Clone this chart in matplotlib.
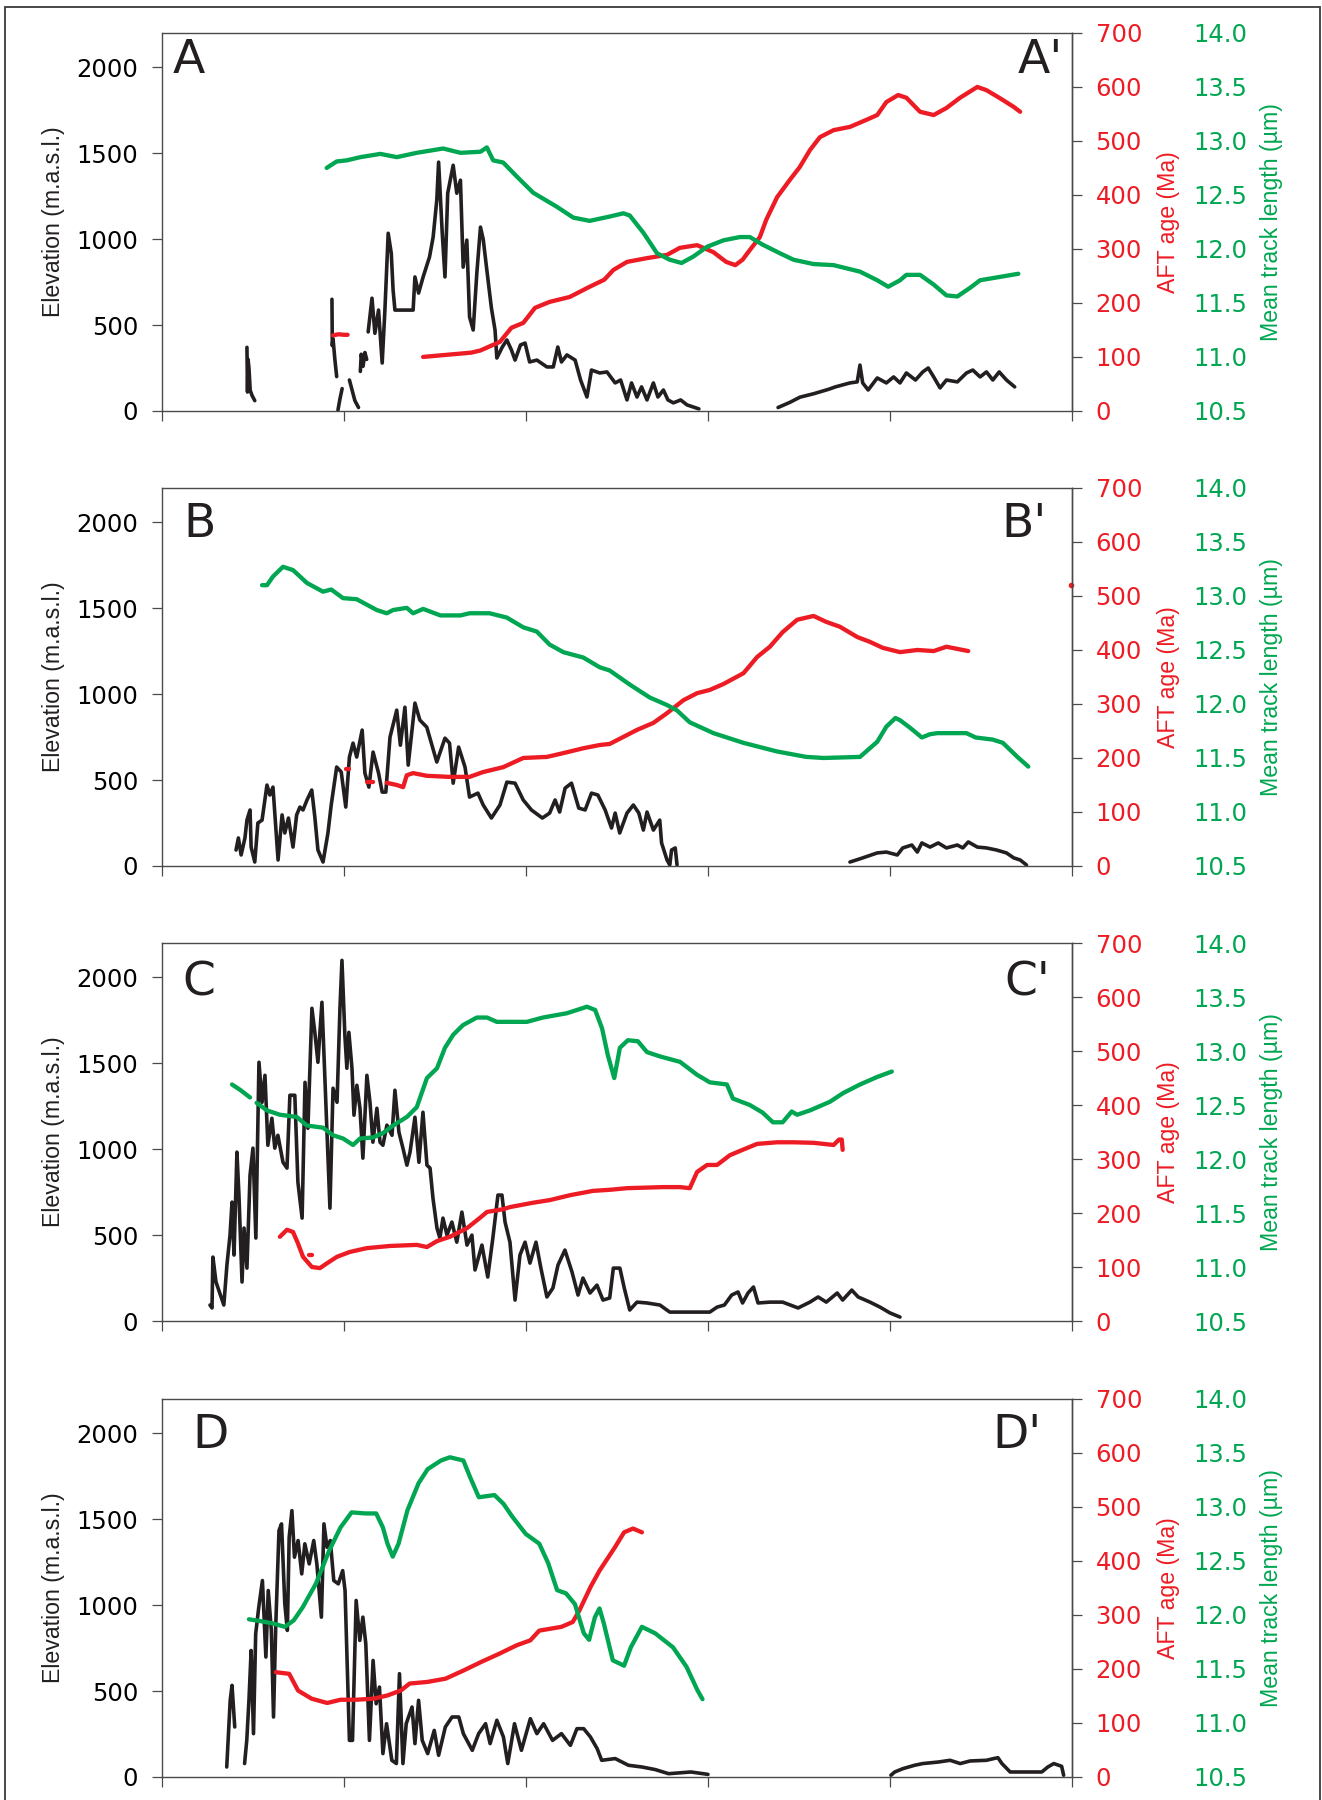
import numpy as np
import matplotlib
matplotlib.use("Agg")
import matplotlib.pyplot as plt
from matplotlib.patches import Rectangle
from matplotlib.ticker import FormatStrFormatter

RED = "#ED1C24"
GREEN = "#00A651"
BLACK = "#231F20"
EDGE = "#4a4a4a"

# distance along profile (tick units 0..5)
# ---- panel A ----
elev_a = [
    [(0.467, 370), (0.47, 110), (0.473, 300), (0.478, 250), (0.485, 120), (0.495, 90), (0.51, 60)],
    [(0.934, 650), (0.936, 380), (0.94, 420), (0.95, 300), (0.96, 200)],
    [(0.967, 5), (0.978, 70), (0.99, 130)],
    [(1.03, 180), (1.045, 120), (1.06, 60), (1.08, 20)],
    [(1.09, 230), (1.095, 330), (1.105, 260), (1.115, 340), (1.125, 300)],
    [(1.133, 460), (1.154, 656), (1.17, 452), (1.19, 587), (1.21, 279), (1.225, 587), (1.243, 1034),
     (1.26, 917), (1.27, 703), (1.28, 587), (1.38, 587), (1.39, 780), (1.41, 686), (1.435, 780),
     (1.47, 896), (1.49, 1012), (1.51, 1227), (1.52, 1448), (1.54, 1034), (1.555, 780), (1.57, 1267),
     (1.6, 1430), (1.62, 1267), (1.64, 1343), (1.655, 837), (1.675, 994), (1.69, 547), (1.71, 471),
     (1.73, 802), (1.75, 1070), (1.765, 1000), (1.785, 820), (1.81, 600), (1.83, 471), (1.84, 308),
     (1.87, 372), (1.895, 413), (1.92, 355), (1.94, 296), (1.97, 384), (1.995, 395), (2.02, 285),
     (2.06, 296), (2.115, 256), (2.15, 256), (2.175, 372), (2.195, 285), (2.225, 326), (2.27, 296),
     (2.3, 180), (2.335, 81), (2.36, 238), (2.405, 221), (2.445, 227), (2.49, 163), (2.52, 180),
     (2.555, 64), (2.58, 163), (2.61, 81), (2.635, 140), (2.665, 64), (2.7, 163), (2.725, 81),
     (2.755, 122), (2.78, 64), (2.81, 47), (2.85, 64), (2.885, 35), (2.95, 12)],
    [(3.385, 20), (3.45, 50), (3.505, 80), (3.58, 100), (3.66, 125), (3.7, 140), (3.78, 163),
     (3.82, 169), (3.835, 267), (3.85, 163), (3.88, 122), (3.93, 192), (3.98, 163), (4.02, 198),
     (4.055, 163), (4.09, 221), (4.14, 180), (4.18, 227), (4.21, 250), (4.24, 198), (4.275, 134),
     (4.31, 180), (4.37, 169), (4.42, 221), (4.455, 238), (4.495, 198), (4.53, 227), (4.565, 180),
     (4.6, 227), (4.64, 180), (4.685, 140)],
]
aft_a = [
    [(0.94, 140), (0.97, 142), (1.0, 141), (1.02, 141)],
    [(1.435, 100), (1.5, 102), (1.6, 105), (1.7, 108), (1.75, 112), (1.857, 128), (1.92, 154),
     (1.985, 163), (2.05, 191), (2.13, 202), (2.24, 211), (2.35, 230), (2.43, 243), (2.48, 261),
     (2.555, 276), (2.665, 283), (2.775, 289), (2.845, 302), (2.94, 307), (3.03, 294), (3.1, 276),
     (3.15, 270), (3.19, 280), (3.23, 298), (3.285, 322), (3.32, 354), (3.38, 396), (3.45, 428),
     (3.505, 452), (3.56, 483), (3.615, 507), (3.69, 520), (3.78, 526), (3.87, 539), (3.93, 548),
     (3.98, 572), (4.045, 585), (4.09, 580), (4.165, 554), (4.24, 548), (4.31, 561), (4.385, 580),
     (4.48, 600), (4.53, 594), (4.6, 580), (4.68, 563), (4.715, 554)],
]
mtl_a = [
    [(0.905, 12.75), (0.96, 12.81), (1.015, 12.82), (1.09, 12.85), (1.2, 12.88), (1.29, 12.85),
     (1.4, 12.89), (1.545, 12.93), (1.64, 12.89), (1.75, 12.9), (1.785, 12.94), (1.82, 12.82),
     (1.875, 12.8), (1.95, 12.67), (2.04, 12.52), (2.17, 12.39), (2.26, 12.29), (2.35, 12.26),
     (2.46, 12.3), (2.535, 12.33), (2.57, 12.31), (2.645, 12.15), (2.72, 11.96), (2.79, 11.9),
     (2.855, 11.87), (2.92, 11.93), (2.995, 12.02), (3.085, 12.08), (3.175, 12.11), (3.23, 12.11),
     (3.3, 12.04), (3.395, 11.96), (3.47, 11.9), (3.58, 11.86), (3.69, 11.85), (3.835, 11.79),
     (3.93, 11.71), (3.99, 11.65), (4.055, 11.71), (4.09, 11.76), (4.165, 11.76), (4.24, 11.67),
     (4.31, 11.57), (4.37, 11.56), (4.44, 11.64), (4.495, 11.71), (4.6, 11.74), (4.705, 11.77)],
]

# ---- panel B ----
elev_b = [
    [(0.407, 93), (0.42, 163), (0.435, 64), (0.456, 163), (0.467, 267), (0.484, 326), (0.49, 110),
     (0.51, 23), (0.527, 250), (0.55, 267), (0.577, 471), (0.593, 413), (0.61, 459), (0.638, 35),
     (0.66, 297), (0.675, 192), (0.695, 279), (0.72, 110), (0.74, 297), (0.758, 343), (0.775, 326),
     (0.797, 384), (0.823, 442), (0.84, 285), (0.857, 93), (0.885, 23), (0.912, 192), (0.93, 355),
     (0.96, 576), (0.985, 547), (1.01, 343), (1.03, 634), (1.05, 715), (1.07, 634), (1.1, 791),
     (1.115, 541), (1.137, 459), (1.16, 663), (1.19, 541), (1.21, 430), (1.23, 430), (1.253, 750),
     (1.29, 907), (1.31, 703), (1.335, 924), (1.353, 587), (1.39, 948), (1.417, 849), (1.455, 808),
     (1.51, 605), (1.555, 744), (1.58, 715), (1.6, 482), (1.63, 692), (1.665, 576), (1.69, 401),
     (1.736, 424), (1.765, 355), (1.81, 279), (1.857, 355), (1.895, 488), (1.94, 482), (1.985, 384),
     (2.03, 326), (2.09, 279), (2.13, 308), (2.16, 384), (2.185, 314), (2.215, 453), (2.25, 482),
     (2.29, 337), (2.325, 326), (2.36, 424), (2.395, 413), (2.435, 326), (2.47, 221), (2.49, 308),
     (2.515, 192), (2.555, 308), (2.59, 355), (2.62, 308), (2.645, 209), (2.665, 314), (2.7, 209),
     (2.735, 267), (2.745, 134), (2.775, 35), (2.79, 6), (2.8, 93), (2.82, 105), (2.83, 6)],
    [(3.78, 23), (3.85, 47), (3.93, 76), (3.98, 81), (4.04, 64), (4.07, 105), (4.12, 122),
     (4.15, 81), (4.175, 134), (4.22, 110), (4.265, 134), (4.31, 105), (4.37, 122), (4.4, 105),
     (4.43, 140), (4.48, 110), (4.53, 105), (4.585, 93), (4.64, 76), (4.68, 47), (4.715, 35),
     (4.75, 6)],
]
aft_b = [
    [(1.01, 180), (1.03, 180)],
    [(1.127, 156), (1.16, 156)],
    [(1.235, 154), (1.29, 150), (1.325, 146), (1.345, 168), (1.38, 172), (1.455, 167), (1.58, 165),
     (1.69, 165), (1.765, 174), (1.875, 183), (1.985, 200), (2.115, 202), (2.205, 209), (2.315, 218),
     (2.405, 224), (2.46, 226), (2.535, 239), (2.61, 252), (2.7, 265), (2.775, 283), (2.865, 307),
     (2.94, 320), (3.01, 326), (3.085, 337), (3.195, 357), (3.27, 387), (3.34, 406), (3.41, 433),
     (3.49, 456), (3.58, 463), (3.65, 452), (3.725, 443), (3.82, 424), (3.89, 415), (3.96, 404),
     (4.055, 396), (4.15, 400), (4.24, 398), (4.31, 406), (4.43, 398)],
]
aft_b_dot = (4.995, 520)
mtl_b = [
    [(0.55, 13.1), (0.577, 13.1), (0.61, 13.18), (0.665, 13.27), (0.72, 13.24), (0.797, 13.12),
     (0.885, 13.04), (0.93, 13.06), (0.995, 12.98), (1.07, 12.97), (1.18, 12.87), (1.235, 12.84),
     (1.27, 12.87), (1.345, 12.89), (1.38, 12.84), (1.435, 12.88), (1.53, 12.82), (1.64, 12.82),
     (1.69, 12.84), (1.8, 12.84), (1.895, 12.8), (1.985, 12.71), (2.06, 12.67), (2.13, 12.55),
     (2.205, 12.48), (2.315, 12.43), (2.405, 12.34), (2.46, 12.31), (2.57, 12.18), (2.68, 12.06),
     (2.775, 11.99), (2.83, 11.94), (2.9, 11.83), (3.03, 11.73), (3.195, 11.64), (3.38, 11.56),
     (3.54, 11.51), (3.635, 11.5), (3.835, 11.51), (3.93, 11.65), (3.98, 11.79), (4.03, 11.87),
     (4.055, 11.85), (4.11, 11.78), (4.175, 11.69), (4.22, 11.72), (4.26, 11.73), (4.42, 11.73),
     (4.47, 11.69), (4.565, 11.67), (4.62, 11.64), (4.7, 11.51), (4.76, 11.42)],
]

# ---- panel C ----
elev_c = [
    [(0.264, 93), (0.275, 76), (0.28, 372), (0.297, 227), (0.34, 93), (0.357, 326), (0.374, 500),
     (0.385, 692), (0.396, 384), (0.412, 983), (0.423, 733), (0.44, 227), (0.451, 541), (0.467, 308),
     (0.484, 849), (0.5, 1006), (0.516, 483), (0.533, 1506), (0.55, 1273), (0.566, 1430),
     (0.582, 1023), (0.604, 1180), (0.62, 1006), (0.637, 1081), (0.665, 924), (0.687, 890),
     (0.703, 1314), (0.73, 1314), (0.747, 808), (0.77, 599), (0.786, 1389), (0.802, 1122),
     (0.824, 1820), (0.84, 1680), (0.857, 1506), (0.879, 1855), (0.896, 1389), (0.923, 657),
     (0.94, 1355), (0.962, 1273), (0.978, 1820), (0.989, 2099), (1.005, 1663), (1.016, 1471),
     (1.027, 1680), (1.044, 1471), (1.055, 1198), (1.071, 1372), (1.088, 1238), (1.104, 948),
     (1.126, 1430), (1.143, 1273), (1.159, 1041), (1.181, 1238), (1.198, 1041), (1.214, 1023),
     (1.236, 1140), (1.264, 1081), (1.28, 1343), (1.302, 1099), (1.324, 1006), (1.346, 907),
     (1.363, 983), (1.39, 1186), (1.412, 924), (1.434, 1215), (1.456, 907), (1.473, 890),
     (1.489, 715), (1.511, 541), (1.527, 483), (1.544, 599), (1.566, 500), (1.593, 576), (1.62, 459),
     (1.648, 634), (1.676, 442), (1.703, 500), (1.72, 297), (1.758, 442), (1.79, 256), (1.818, 483),
     (1.846, 733), (1.868, 733), (1.885, 576), (1.912, 459), (1.94, 122), (1.967, 384), (1.995, 459),
     (2.022, 337), (2.055, 459), (2.082, 308), (2.115, 140), (2.148, 192), (2.176, 326),
     (2.214, 413), (2.253, 285), (2.286, 151), (2.313, 250), (2.352, 163), (2.39, 209), (2.423, 122),
     (2.46, 134), (2.48, 308), (2.516, 308), (2.54, 192), (2.57, 64), (2.61, 110), (2.665, 105),
     (2.736, 93), (2.79, 52), (3.01, 52), (3.05, 81), (3.09, 93), (3.13, 151), (3.165, 169),
     (3.19, 105), (3.22, 163), (3.25, 198), (3.275, 105), (3.34, 110), (3.41, 110), (3.495, 76),
     (3.56, 110), (3.605, 140), (3.65, 110), (3.71, 163), (3.74, 122), (3.79, 180), (3.825, 140),
     (3.89, 110), (3.945, 81), (4.0, 47), (4.055, 23)],
]
aft_c = [
    [(0.648, 156), (0.687, 169), (0.72, 165), (0.747, 144), (0.775, 119), (0.824, 100), (0.868, 98),
     (0.907, 107), (0.962, 119), (1.033, 128), (1.126, 135), (1.253, 139), (1.4, 141), (1.456, 137),
     (1.511, 148), (1.582, 156), (1.676, 172), (1.747, 191), (1.786, 202), (1.874, 207),
     (1.912, 211), (2.038, 219), (2.132, 224), (2.242, 233), (2.368, 241), (2.46, 243),
     (2.555, 246), (2.753, 248), (2.846, 248), (2.9, 246), (2.94, 276), (2.995, 289), (3.05, 289),
     (3.12, 307), (3.19, 317), (3.27, 328), (3.38, 331), (3.47, 331), (3.58, 330), (3.69, 326),
     (3.72, 336), (3.735, 336), (3.74, 317)],
    [(0.81, 122), (0.825, 122)],
]
mtl_c = [
    [(0.385, 12.69), (0.43, 12.64), (0.484, 12.57)],
    [(0.52, 12.52), (0.577, 12.45), (0.648, 12.41), (0.74, 12.39), (0.797, 12.31), (0.885, 12.29),
     (0.94, 12.22), (0.995, 12.19), (1.05, 12.13), (1.088, 12.19), (1.16, 12.2), (1.214, 12.24),
     (1.27, 12.31), (1.346, 12.39), (1.4, 12.48), (1.456, 12.75), (1.511, 12.84), (1.555, 13.03),
     (1.6, 13.15), (1.654, 13.24), (1.73, 13.31), (1.786, 13.31), (1.84, 13.27), (2.005, 13.27),
     (2.093, 13.31), (2.225, 13.35), (2.335, 13.41), (2.38, 13.38), (2.418, 13.21), (2.45, 12.96),
     (2.485, 12.75), (2.516, 13.03), (2.56, 13.1), (2.615, 13.09), (2.665, 12.99), (2.736, 12.95),
     (2.846, 12.9), (2.94, 12.78), (3.01, 12.71), (3.104, 12.69), (3.137, 12.56), (3.23, 12.5),
     (3.3, 12.43), (3.357, 12.34), (3.41, 12.34), (3.46, 12.44), (3.49, 12.41), (3.56, 12.45),
     (3.67, 12.53), (3.742, 12.61), (3.835, 12.69), (3.93, 12.76), (4.01, 12.81)],
]

# ---- panel D ----
elev_d = [
    [(0.356, 58), (0.375, 446), (0.385, 533), (0.4, 291)],
    [(0.454, 78), (0.466, 213), (0.478, 446),
     (0.49, 736), (0.503, 252), (0.515, 833), (0.532, 988), (0.552, 1143), (0.571, 698),
     (0.584, 1085), (0.601, 853), (0.613, 349), (0.625, 872), (0.643, 1434), (0.657, 1473),
     (0.675, 1008), (0.689, 853), (0.699, 1395), (0.714, 1550), (0.728, 1279), (0.748, 1376),
     (0.768, 1182), (0.785, 1357), (0.809, 1240), (0.834, 1376), (0.851, 1240), (0.876, 930),
     (0.89, 1473), (0.907, 1337), (0.925, 1376), (0.944, 1143), (0.969, 1124), (0.993, 1201),
     (1.006, 1085), (1.03, 213), (1.047, 213), (1.067, 1027), (1.087, 795), (1.104, 930),
     (1.12, 775), (1.14, 213), (1.16, 678), (1.177, 426), (1.195, 523), (1.214, 136), (1.234, 310),
     (1.263, 97), (1.288, 78), (1.305, 601), (1.324, 78), (1.342, 310), (1.374, 407), (1.39, 194),
     (1.41, 446), (1.43, 213), (1.46, 136), (1.496, 271), (1.52, 126), (1.557, 291), (1.594, 349),
     (1.631, 349), (1.656, 252), (1.705, 155), (1.74, 252), (1.778, 310), (1.803, 194), (1.84, 330),
     (1.876, 233), (1.9, 78), (1.937, 310), (1.975, 155), (2.024, 339), (2.06, 252), (2.097, 310),
     (2.146, 213), (2.195, 252), (2.244, 184), (2.28, 281), (2.317, 281), (2.354, 233),
     (2.391, 165), (2.416, 97), (2.49, 107), (2.563, 68), (2.637, 58), (2.71, 43), (2.784, 19),
     (2.906, 29), (3.0, 15)],
    [(4.005, 10), (4.026, 29), (4.07, 48), (4.135, 68), (4.18, 78), (4.266, 87), (4.33, 97),
     (4.386, 78), (4.44, 93), (4.53, 97), (4.57, 107), (4.593, 112), (4.615, 78), (4.66, 29),
     (4.834, 29), (4.867, 58), (4.9, 78), (4.943, 62), (4.954, 10)],
]
aft_d = [
    [(0.625, 194), (0.699, 191), (0.748, 160), (0.822, 145), (0.908, 137), (0.981, 143),
     (1.067, 143), (1.165, 145), (1.239, 151), (1.312, 160), (1.361, 173), (1.459, 176),
     (1.558, 182), (1.656, 197), (1.754, 213), (1.852, 228), (1.95, 244), (2.024, 253),
     (2.073, 271), (2.195, 278), (2.257, 287), (2.293, 308), (2.355, 352), (2.404, 382),
     (2.453, 407), (2.49, 426), (2.539, 453), (2.588, 460), (2.637, 453)],
]
mtl_d = [
    [(0.478, 11.96), (0.552, 11.94), (0.613, 11.92), (0.675, 11.89), (0.724, 11.95), (0.773, 12.07),
     (0.846, 12.29), (0.92, 12.6), (0.981, 12.81), (1.042, 12.95), (1.116, 12.94), (1.177, 12.94),
     (1.214, 12.81), (1.239, 12.66), (1.268, 12.54), (1.3, 12.66), (1.349, 12.97), (1.41, 13.22),
     (1.46, 13.35), (1.533, 13.43), (1.582, 13.46), (1.656, 13.43), (1.692, 13.28), (1.741, 13.09),
     (1.827, 13.11), (1.876, 13.03), (1.925, 12.91), (1.999, 12.75), (2.073, 12.66), (2.122, 12.48),
     (2.171, 12.23), (2.22, 12.2), (2.269, 12.1), (2.318, 11.83), (2.347, 11.77), (2.379, 11.98),
     (2.404, 12.06), (2.428, 11.92), (2.477, 11.58), (2.539, 11.53), (2.576, 11.7), (2.637, 11.89),
     (2.71, 11.83), (2.808, 11.7), (2.882, 11.52), (2.943, 11.3), (2.97, 11.22)],
]

elev_ticks = [0, 500, 1000, 1500, 2000]
aft_ticks = [0, 100, 200, 300, 400, 500, 600, 700]
mtl_ticks = [10.5, 11.0, 11.5, 12.0, 12.5, 13.0, 13.5, 14.0]
x_ticks = [0, 1, 2, 3, 4, 5]

panels = [
    ("A", "A'", elev_a, aft_a, mtl_a, 0.7717, (0.012, 0.894), (0.99, 0.894)),
    ("B", "B'", elev_b, aft_b, mtl_b, 0.5189, (0.023, 0.87), (0.972, 0.87)),
    ("C", "C'", elev_c, aft_c, mtl_c, 0.2661, (0.022, 0.862), (0.976, 0.862)),
    ("D", "D'", elev_d, aft_d, mtl_d, 0.0128, (0.033, 0.87), (0.967, 0.87)),
]

plt.rcParams["font.family"] = ["DejaVu Sans"]
fig = plt.figure(figsize=(13.22, 18), dpi=100)

LBL = dict(family="Liberation Sans", fontsize=16.7, rotation=90, ha="center", va="center")


def draw(ax, segs, color, lw):
    for s in segs:
        a = np.array(s, dtype=float)
        ax.plot(a[:, 0], a[:, 1], color=color, lw=lw, solid_joinstyle="round",
                solid_capstyle="round")


for name, name2, elev, aft, mtl, bottom, p1, p2 in panels:
    ax = fig.add_axes([0.1225, bottom, 0.6884, 0.21])
    ax.set_xlim(0, 5)
    ax.set_ylim(0, 2200)
    ax.set_xticks(x_ticks)
    ax.set_xticklabels([])
    ax.set_yticks(elev_ticks)
    ax.tick_params(direction="out", length=7, width=0.9, color=EDGE)
    ax.tick_params(axis="y", labelsize=17.5, pad=10)
    for sp in ax.spines.values():
        sp.set_color(EDGE)
        sp.set_linewidth(1.0)
    draw(ax, elev, BLACK, 2.6)
    ax.text(-0.119, 0.5, "Elevation (m.a.s.l.)", transform=ax.transAxes, color=BLACK, **LBL)
    ax.text(p1[0], p1[1], name, transform=ax.transAxes, fontsize=34, ha="left",
            va="baseline", color=BLACK)
    ax.text(p2[0], p2[1], name2, transform=ax.transAxes, fontsize=34, ha="right",
            va="baseline", color=BLACK)

    ax2 = ax.twinx()
    ax2.set_ylim(0, 700)
    ax2.set_yticks(aft_ticks)
    ax2.tick_params(axis="y", direction="out", length=7, width=0.9, color=EDGE,
                    labelcolor=RED, labelsize=17.5, pad=10)
    for k in ["top", "bottom", "left"]:
        ax2.spines[k].set_visible(False)
    ax2.spines["right"].set_color(EDGE)
    ax2.spines["right"].set_linewidth(1.0)
    draw(ax2, aft, RED, 3.1)
    if name == "B":
        ax2.plot([aft_b_dot[0]], [aft_b_dot[1]], "o", color=RED, ms=3, clip_on=False)
    ax2.text(1.1055, 0.5, "AFT age (Ma)", transform=ax2.transAxes, color=RED, **LBL)

    ax3 = ax.twinx()
    ax3.set_ylim(10.5, 14.0)
    ax3.set_yticks(mtl_ticks)
    ax3.yaxis.set_major_formatter(FormatStrFormatter("%.1f"))
    for sp in ax3.spines.values():
        sp.set_visible(False)
    ax3.spines["right"].set_position(("axes", 1.133))
    ax3.tick_params(axis="y", length=0, pad=0, labelcolor=GREEN, labelsize=17.5)
    draw(ax3, mtl, GREEN, 3.1)
    ax3.text(1.2187, 0.5, "Mean track length (\u00b5m)", transform=ax3.transAxes,
             color=GREEN, **LBL)

fig.patches.append(Rectangle((5 / 1322, -0.01), 1315 / 1322, 1793 / 1800 + 0.01,
                             transform=fig.transFigure, fill=False, ec="#3a3a3a", lw=1.3))

fig.savefig("out.png", dpi=100)
